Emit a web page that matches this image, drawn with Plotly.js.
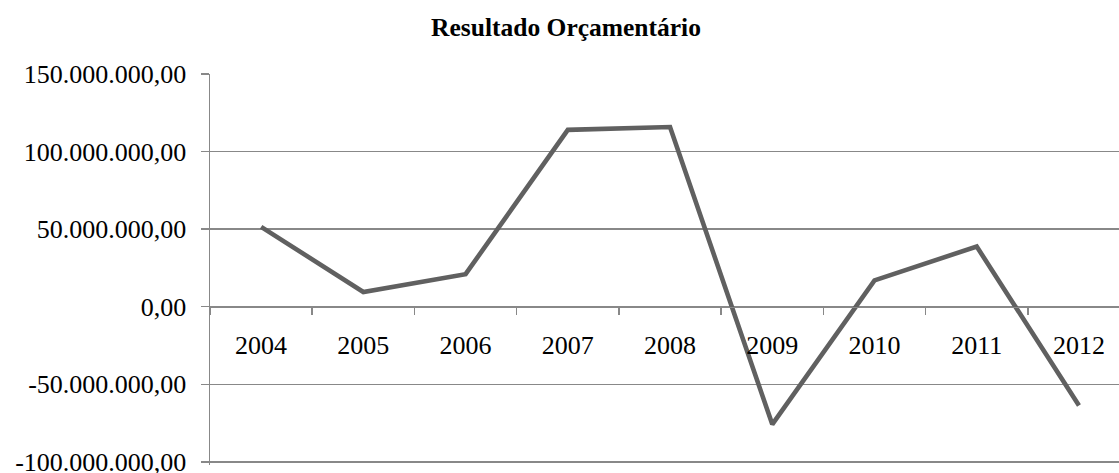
<!DOCTYPE html>
<html>
<head>
<meta charset="utf-8">
<script src="https://cdn.plot.ly/plotly-3.0.1.min.js"></script>
<style>html,body{margin:0;padding:0;background:#fff;overflow:hidden;}#chart{width:1119px;height:473px;}</style>
</head>
<body>
<div id="chart"></div>
<script>
var years = ["2004","2005","2006","2007","2008","2009","2010","2011","2012"];
var resultado = [51500000, 9500000, 21000000, 114000000, 115800000, -75800000, 17000000, 38800000, -63600000];
var yTickVals = [-100000000, -50000000, 0, 50000000, 100000000, 150000000];
var yTickText = ["-100.000.000,00", "-50.000.000,00", "0,00", "50.000.000,00", "100.000.000,00", "150.000.000,00"];
var chartTitle = "Resultado Orçamentário";

var W = 1119, H = 473;
var plotTop = 74, plotLeft = 210;
var pxPerUnit = 388 / 250000000;
var yMin = -102000000, yMax = 150000000;
var plotH = (yMax - yMin) * pxPerUnit;
var zeroY = plotTop + yMax * pxPerUnit;
var catWidth = 102.23;
var xEnd = (W - plotLeft) / catWidth - 0.5;
var zeroFrac = (plotTop + plotH - zeroY) / plotH;

var font = "Liberation Serif, Times New Roman, serif";

var trace = {
  x: years,
  y: resultado,
  type: "scatter",
  mode: "lines",
  line: {color: "#606060", width: 4.6},
  hoverinfo: "x+y"
};

var layout = {
  width: W, height: H,
  paper_bgcolor: "#ffffff", plot_bgcolor: "#ffffff",
  margin: {l: plotLeft, r: 0, t: plotTop, b: H - plotTop - plotH, pad: 0},
  showlegend: false,
  title: {
    text: "<b>" + chartTitle + "</b>",
    font: {family: font, size: 25.5, color: "#000000"},
    xref: "container", yref: "container",
    x: 566 / W, xanchor: "center",
    y: 1 - 27 / H, yanchor: "middle"
  },
  xaxis: {
    type: "category",
    range: [-0.5, xEnd],
    anchor: "free",
    position: zeroFrac,
    showline: true, linecolor: "#888888", linewidth: 1.5,
    showgrid: false, zeroline: false,
    ticks: "outside", tickson: "boundaries", ticklen: 7, tickcolor: "#888888", tickwidth: 1.5,
    tickfont: {family: font, size: 26, color: "#000000"},
    ticklabelstandoff: 15,
    ticklabeloverflow: "allow"
  },
  yaxis: {
    range: [yMin, yMax],
    tickvals: yTickVals, ticktext: yTickText,
    showline: true, linecolor: "#888888", linewidth: 1.5,
    showgrid: true, gridcolor: "#888888", gridwidth: 1.5,
    zeroline: false,
    ticks: "outside", ticklen: 8, tickcolor: "#888888", tickwidth: 1.5,
    tickfont: {family: font, size: 26, color: "#000000"},
    ticklabelstandoff: 9,
    ticklabeloverflow: "allow"
  }
};

Plotly.newPlot("chart", [trace], layout, {displayModeBar: false, staticPlot: true});
</script>
</body>
</html>
